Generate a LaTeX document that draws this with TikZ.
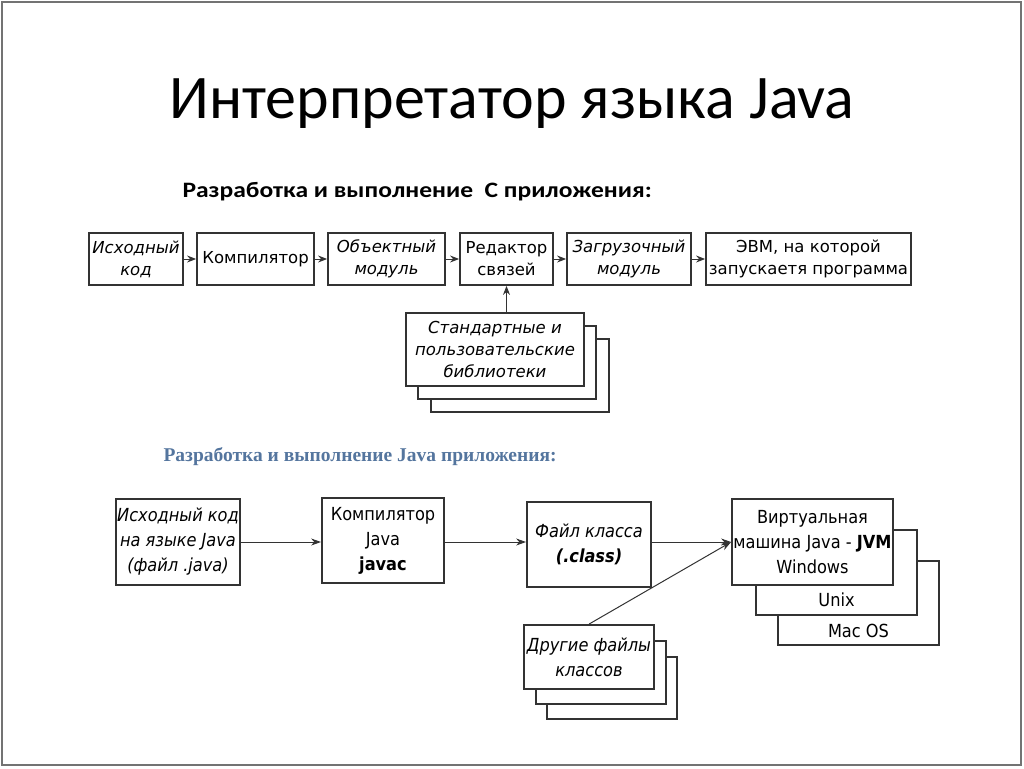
\documentclass[tikz,border=0pt]{standalone}
\usepackage{fontspec}
\setmainfont{Carlito}
\newfontfamily\subfont[FakeStretch=1.16]{Carlito}
\newfontfamily\boxfont{DejaVu Sans}
\newfontfamily\condfont{DejaVu Sans Condensed}
\newfontfamily\capfont{Liberation Serif}
\usepackage{xcolor}
\definecolor{lineg}{gray}{0.2}
\definecolor{frameg}{gray}{0.45}
\definecolor{subblue}{RGB}{84,117,158}
\usetikzlibrary{arrows.meta,positioning,calc}

\begin{document}
\begin{tikzpicture}[
  x=1pt, y=-1pt,
  box/.style={
    rectangle, draw=lineg, fill=white,
    line width=1.8pt, inner sep=0pt,
    minimum width=#1, align=center,
    font=\boxfont\fontsize{16.5}{22}\selectfont
  },
  jbox/.style={
    rectangle, draw=lineg, fill=white,
    line width=1.8pt, inner sep=0pt,
    minimum width=#1, align=center,
    font=\condfont\fontsize{18}{25}\selectfont
  },
  arr/.style={-{Stealth[length=9pt,width=7pt]}, line width=1pt, color=lineg},
  jarr/.style={-{Stealth[length=10pt,width=7pt]}, line width=1pt, color=lineg}
]
\useasboundingbox (0,0) rectangle (1024,768);
\draw[frameg, line width=2pt] (2,2) rectangle (1021,765);

% titles
\node[font=\fontsize{62}{74}\selectfont, anchor=base] (title) at (512,118)
  {Интерпретатор языка Java};
\node[font=\subfont\bfseries\fontsize{22}{26}\selectfont, anchor=base west] (subc) at (179,197)
  {Разработка и выполнение\ \ С приложения:};
\node[font=\capfont\bfseries\fontsize{19.5}{24}\selectfont, text=subblue, anchor=base west]
  (subj) at (160,461) {Разработка и выполнение Java приложения:};

% C chain
\node[box=94pt, minimum height=52pt] (src) at (136,259)
  {\itshape Исходный\\\itshape код};
\node[box=117pt, minimum height=52pt] (comp) at (255.5,259) {Компилятор};
\node[box=117pt, minimum height=52pt] (obj) at (386.5,259)
  {\itshape Объектный\\\itshape модуль};
\node[box=93pt, minimum height=52pt] (link) at (506.5,259) {Редактор\\связей};
\node[box=124pt, minimum height=52pt] (load) at (629,259)
  {\itshape Загрузочный\\\itshape модуль};
\node[box=205pt, minimum height=52pt] (evm) at (808.5,259)
  {ЭВМ, на которой\\запускаетя программа};

\node[box=178pt, minimum height=73pt] (lib3) at (520,375.5) {};
\node[box=178pt, minimum height=73pt] (lib2) at (507,362.5) {};
\node[box=178pt, minimum height=73pt] (lib) at (495,349.5)
  {\itshape Стандартные и\\\itshape пользовательские\\\itshape библиотеки};

\draw[arr] (src) -- (comp);
\draw[arr] (comp) -- (obj);
\draw[arr] (obj) -- (link);
\draw[arr] (link) -- (load);
\draw[arr] (load) -- (evm);
\draw[arr] (lib.north -| link) -- (link.south);

% Java chain
\node[jbox=124pt, minimum height=86pt] (jsrc) at (178,542)
  {\itshape Исходный код\\\itshape на языке Java\\\itshape (файл .java)};
\node[jbox=122pt, minimum height=85pt] (jcomp) at (383,540.5)
  {Компилятор\\Java\\\bfseries javac};
\node[jbox=124pt, minimum height=85pt] (jclass) at (589,544.5)
  {\itshape Файл класса\\\bfseries\itshape (.class)};

\node[jbox=161pt, minimum height=84pt] (mac) at (858.5,603) {};
\node[jbox=161pt, minimum height=85pt] (unix) at (836.5,572.5) {};
\node[jbox=161pt, minimum height=86pt] (jvm) at (812.5,542)
  {Виртуальная\\машина Java - \textbf{JVM}\\Windows};
\node[font=\condfont\fontsize{18}{25}\selectfont, anchor=base] (unixt)
  at (836.5,606) {Unix};
\node[font=\condfont\fontsize{18}{25}\selectfont, anchor=base] (mact)
  at (858.5,637) {Mac OS};

\node[jbox=130pt, minimum height=62pt] (other3) at (612,688) {};
\node[jbox=130pt, minimum height=63pt] (other2) at (601,672.5) {};
\node[jbox=130pt, minimum height=64pt] (other) at (589,657)
  {\itshape Другие файлы\\\itshape классов};

\draw[jarr] (jsrc.east) -- (jcomp.west |- jsrc.east);
\draw[jarr] (jcomp.east |- jsrc.east) -- (jclass.west |- jsrc.east);
\draw[jarr] (jclass.east |- jvm.west) -- (jvm.west);
\draw[jarr] (other.north) -- (jvm.west);
\end{tikzpicture}
\end{document}
